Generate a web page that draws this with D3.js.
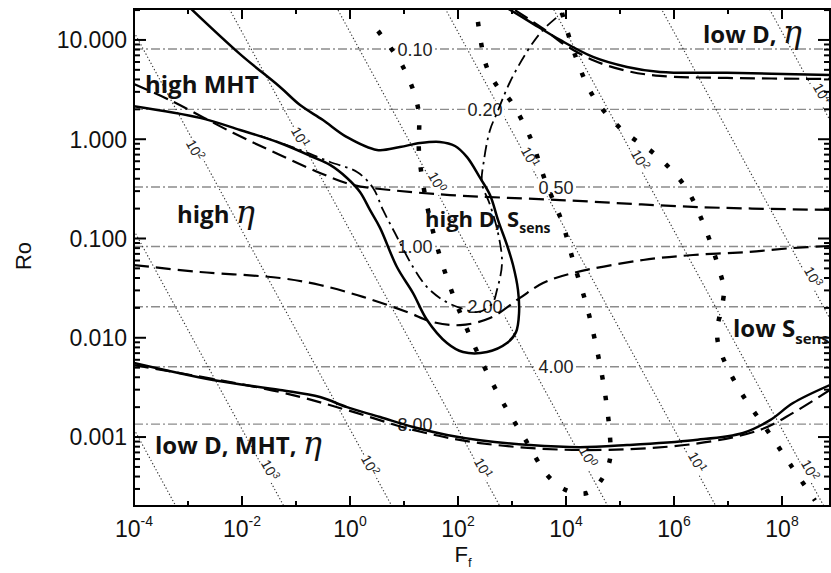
<!DOCTYPE html>
<meta charset="utf-8">
<style>
    body { margin: 0; background: #fff; }
    .tick-label { font: 23px "Liberation Sans", Arial, sans-serif; fill: #111; }
    .axis-title { font: 22px "Liberation Sans", Arial, sans-serif; fill: #111; }
    .level-label { font: 18px "Liberation Sans", Arial, sans-serif; fill: #222; }
    .diag-label { font: 14px "Liberation Sans", Arial, sans-serif; fill: #222; }
    .region { font-family: "Open Sans", sans-serif; font-weight: 700; fill: #111; }
    .eta { font-family: "DejaVu Serif", serif; font-style: italic; font-weight: 400; }
</style>
<body>
<script src="https://d3js.org/d3.v7.min.js"></script>
<script>

// axes
const xTickExps = [-4, -3, -2, -1, 0, 1, 2, 3, 4, 5, 6, 7, 8];
const xLabelExps = [-4, -2, 0, 2, 4, 6, 8];
const yTicks = [10, 1, 0.1, 0.01, 0.001];
const yTickLabels = ["10.000", "1.000", "0.100", "0.010", "0.001"];

// horizontal dash-dot levels (Ro) and their labels
const levelRo = [8.1, 2.0, 0.33, 0.083, 0.0205, 0.0051, 0.00135];
const levelText = ["0.10", "0.20", "0.50", "1.00", "2.00", "4.00", "8.00"];
const levelLabelF = [16, 316, 6500, 16, 316, 6500, 16];

// thin dotted diagonals, Ro*Ff = const
const diagProducts = [1.2e-7, 1.2e-5, 1.2e-3, 0.12, 12, 1.2e3, 1.2e5, 1.2e7, 1.2e9];
const diagLabels = [
    ["2", 1.35e-3, 0.78], ["1", 0.119, 1.05], ["0", 40.8, 0.37], ["1", 2150, 0.66],
    ["2", 2.35e5, 0.62], ["4", 5.5e8, 2.9], ["3", 3.75e8, 0.041],
    ["3", 0.033, 4.66e-4], ["2", 2.34, 5.2e-4], ["1", 290, 4.87e-4],
    ["0", 2.55e4, 6.3e-4], ["1", 2.67e6, 5.6e-4], ["2", 3.3e8, 4.66e-4]
];

// solid curve with the loop (Ff, Ro)
const solidLoop = [
    [1e-3, 22], [9.2e-3, 7.2], [0.0506, 3.36], [0.119, 2.21], [0.316, 1.56], [0.88, 1.05],
    [3.16, 0.78], [8.4, 0.835], [19.8, 0.916], [46, 0.94], [88, 0.855], [147, 0.66],
    [255, 0.41], [392, 0.274], [551, 0.153], [807, 0.086], [1045, 0.054], [1290, 0.0303],
    [1350, 0.0177], [1185, 0.0114], [807, 0.00885], [344, 0.00718], [124, 0.00718],
    [62.5, 0.00885], [26.7, 0.0151], [14.7, 0.0282], [7.4, 0.0516], [3.6, 0.128],
    [2.34, 0.194], [1.53, 0.294], [0.88, 0.407], [0.427, 0.551], [0.206, 0.662],
    [0.0506, 0.916], [9.2e-3, 1.24], [1.67e-3, 1.64], [1e-4, 2.15]
];

// dashed line through the middle
const dashedMid = [
    [1e-4, 3.6], [4.6e-4, 2.48], [6.8e-3, 1.16], [0.0506, 0.694], [0.278, 0.457],
    [1.14, 0.346], [5.5, 0.308], [71, 0.274], [7.7e3, 0.244], [3.0e6, 0.207], [7.7e8, 0.194]
];

// lower dashed line
const dashedLow = [
    [1e-4, 0.054], [1.67e-3, 0.046], [0.0506, 0.04], [0.278, 0.034], [1.74, 0.0258],
    [11.4, 0.0182], [34.4, 0.0144], [109, 0.0134], [392, 0.0158], [1406, 0.0252],
    [3750, 0.0356], [1.35e4, 0.0449], [2.67e5, 0.0607], [2.25e6, 0.0682],
    [2.25e7, 0.0731], [1.6e8, 0.0802], [7.7e8, 0.084]
];

// black dash-dot curve
const dashDot = [
    [0.0216, 1.08], [0.119, 0.78], [0.427, 0.59], [1.35, 0.468], [2.67, 0.323],
    [4.08, 0.194], [6.8, 0.1135], [14.7, 0.0516], [26.7, 0.0324], [52.7, 0.024],
    [109, 0.02], [234, 0.0182], [426, 0.0219], [527, 0.0303], [653, 0.0566],
    [551, 0.1135], [392, 0.218], [278, 0.362], [303, 0.618], [392, 1.24], [527, 1.84],
    [918, 3.77], [1980, 7.92], [3750, 12.6], [8800, 19.1], [1.29e4, 23]
];

// upper right pair
const solidTop = [
    [807, 21], [2150, 15.2], [7740, 10], [3.16e4, 6.75], [1.35e5, 5.35],
    [5.5e5, 4.76], [9.6e6, 4.66], [7.7e8, 4.44]
];
const dashedTop = [
    [1137, 20], [4080, 12.6], [9570, 8.9], [3.44e4, 6.14], [1.35e5, 4.87],
    [5.5e5, 4.34], [9.6e6, 4.14], [7.7e8, 4.05]
];

// lower pair
const solidBottom = [
    [1e-4, 5.57e-3], [2.9e-3, 3.75e-3], [0.0506, 2.98e-3], [0.278, 2.53e-3], [0.88, 2.0e-3],
    [3.6, 1.59e-3], [14.7, 1.26e-3], [62.5, 1.05e-3], [255, 9.3e-4], [2150, 8.3e-4],
    [1.8e4, 7.9e-4], [1.35e5, 8.3e-4], [2.25e6, 9.3e-4], [1.9e7, 1.1e-3],
    [6.0e7, 1.48e-3], [1.6e8, 2.2e-3], [7.7e8, 3.34e-3]
];
const dashedBottom = [
    [1e-4, 5.3e-3], [0.0506, 2.84e-3], [0.88, 1.87e-3], [14.7, 1.18e-3], [255, 8.7e-4],
    [1.8e4, 7.4e-4], [2.25e6, 8.5e-4], [3.9e7, 1.18e-3], [1.6e8, 1.75e-3], [7.7e8, 2.98e-3]
];

// heavy dotted curves
const dotsU = [
    [3.3, 12.3], [9.6, 5.35], [18.2, 2.07], [19, 0.726], [24.5, 0.274], [37.5, 0.0988],
    [65.3, 0.0373], [129, 0.0144], [278, 5.7e-3], [653, 2.31e-3], [1740, 9.55e-4],
    [4640, 4.05e-4], [1.0e4, 2.92e-4], [2.45e4, 2.73e-4], [4.64e4, 3.78e-4],
    [6.53e4, 6.0e-4], [6.53e4, 1.0e-3], [5.27e4, 2.77e-3], [3.75e4, 7.53e-3],
    [2.45e4, 0.0204], [1.41e4, 0.0553], [8430, 0.1466], [4080, 0.388], [2250, 1.0],
    [918, 2.48], [527, 3.44], [330, 5.6], [234, 15.2]
];
const dotsRight = [
    [8430, 18.7], [1.47e4, 7.06], [3.16e4, 2.73], [1.04e5, 1.27], [4.84e5, 0.678],
    [1.67e6, 0.323], [3.75e6, 0.128], [6.8e6, 0.0493], [8.4e6, 0.0296], [6.25e6, 0.0109],
    [7.7e6, 6.7e-3], [1.82e7, 2.71e-3], [5.27e7, 1.18e-3], [1.53e8, 5.0e-4], [4.08e8, 2.3e-4]
];

const width = 831, height = 573;
const plotL = 134, plotR = 830, plotT = 9, plotB = 506;

const svg = d3.select("body").append("svg")
    .attr("width", width)
    .attr("height", height);

const x = d3.scaleLog().domain([1e-4, 7.74e8]).range([plotL, plotR]);
const y = d3.scaleLog().domain([2.02e-4, 20.5]).range([plotB, plotT]);

svg.append("clipPath").attr("id", "plot")
    .append("rect")
    .attr("x", plotL).attr("y", plotT)
    .attr("width", plotR - plotL).attr("height", plotB - plotT);

const plot = svg.append("g").attr("clip-path", "url(#plot)");

// horizontal gray dash-dot lines
plot.selectAll(".level")
    .data(levelRo)
    .enter().append("line")
    .attr("x1", plotL).attr("x2", plotR)
    .attr("y1", d => y(d)).attr("y2", d => y(d))
    .attr("stroke", "#8c8c8c")
    .attr("stroke-width", 1.4)
    .attr("stroke-dasharray", "9,3,2,3");

// dotted diagonals
const [fMin, fMax] = x.domain();
plot.selectAll(".diag")
    .data(diagProducts)
    .enter().append("line")
    .attr("x1", x(fMin)).attr("y1", d => y(d / fMin))
    .attr("x2", x(fMax)).attr("y2", d => y(d / fMax))
    .attr("stroke", "#333")
    .attr("stroke-width", 1.1)
    .attr("stroke-dasharray", "1.3,2.2");

// labels on levels, with white backing
levelText.forEach((t, i) => {
    const g = plot.append("g")
        .attr("transform", `translate(${x(levelLabelF[i])},${y(levelRo[i])})`);
    const txt = g.append("text")
        .attr("class", "level-label")
        .attr("text-anchor", "middle")
        .attr("dy", "0.36em")
        .text(t);
    const b = txt.node().getBBox();
    g.insert("rect", "text")
        .attr("x", b.x - 2).attr("y", b.y + 1)
        .attr("width", b.width + 4).attr("height", b.height - 2)
        .attr("fill", "#fff");
});

// labels on diagonals
const angle = Math.atan2(y(1e-3) - y(1e-2), x(1e2) - x(1e1)) * 180 / Math.PI;
diagLabels.forEach(([e, f, ro]) => {
    const g = plot.append("g")
        .attr("transform", `translate(${x(f)},${y(ro)}) rotate(${angle})`);
    const txt = g.append("text")
        .attr("class", "diag-label")
        .attr("text-anchor", "middle")
        .attr("dy", "0.36em");
    txt.append("tspan").text("10");
    txt.append("tspan").attr("dy", -5).attr("font-size", 10).text(e);
    const b = txt.node().getBBox();
    g.insert("rect", "text")
        .attr("x", b.x - 1).attr("y", b.y)
        .attr("width", b.width + 2).attr("height", b.height)
        .attr("fill", "#fff");
});

const line = d3.line()
    .x(d => x(d[0]))
    .y(d => y(d[1]))
    .curve(d3.curveCatmullRom.alpha(0.5));

const curves = svg.append("g").attr("clip-path", "url(#plot)");

function drawCurve(data, w, dash) {
    curves.append("path")
        .datum(data)
        .attr("d", line)
        .attr("fill", "none")
        .attr("stroke", "#000")
        .attr("stroke-width", w)
        .attr("stroke-dasharray", dash);
}

drawCurve(dashedMid, 2.2, "15,7");
drawCurve(dashedLow, 2.2, "15,7");
drawCurve(dashedTop, 2.2, "15,7");
drawCurve(dashedBottom, 2.2, "15,7");
drawCurve(dashDot, 1.8, "12,5,2.5,5");
drawCurve(solidLoop, 2.5, null);
drawCurve(solidTop, 2.5, null);
drawCurve(solidBottom, 2.5, null);

// heavy square dots
[dotsU, dotsRight].forEach(d => {
    curves.append("path")
        .datum(d)
        .attr("d", line)
        .attr("fill", "none")
        .attr("stroke", "#000")
        .attr("stroke-width", 4.5)
        .attr("stroke-dasharray", "4.5,16.5");
});

// frame and ticks
const axes = svg.append("g");
const yMinor = [];
for (let e = -4; e <= 1; e++) {
    for (let m = 2; m <= 9; m++) {
        const v = m * Math.pow(10, e);
        if (v > y.domain()[0] && v < y.domain()[1]) yMinor.push(v);
    }
}

function tickLines(vals, horizontal, pos, len) {
    axes.selectAll(null)
        .data(vals)
        .enter().append("line")
        .attr("x1", d => horizontal ? x(d) : pos)
        .attr("x2", d => horizontal ? x(d) : pos + len)
        .attr("y1", d => horizontal ? pos : y(d))
        .attr("y2", d => horizontal ? pos + len : y(d))
        .attr("stroke", "#000")
        .attr("stroke-width", 2);
}

const xMajor = xTickExps.filter(e => e % 2 === 0).map(e => Math.pow(10, e));
const xMinorTicks = xTickExps.filter(e => e % 2 !== 0).map(e => Math.pow(10, e));
tickLines(xMajor, true, plotB, -10);
tickLines(xMinorTicks, true, plotB, -5);
tickLines(xMajor, true, plotT, 10);
tickLines(xMinorTicks, true, plotT, 5);
tickLines(yTicks, false, plotL, 12);
tickLines(yMinor, false, plotL, 6);
tickLines(yTicks, false, plotR, -12);
tickLines(yMinor, false, plotR, -6);

axes.append("rect")
    .attr("x", plotL).attr("y", plotT)
    .attr("width", plotR - plotL).attr("height", plotB - plotT)
    .attr("fill", "none")
    .attr("stroke", "#000")
    .attr("stroke-width", 2);

// tick labels
axes.selectAll(".ylab")
    .data(yTicks)
    .enter().append("text")
    .attr("class", "tick-label")
    .attr("x", 127)
    .attr("y", d => y(d))
    .attr("dy", "0.36em")
    .attr("text-anchor", "end")
    .text((d, i) => yTickLabels[i]);

xLabelExps.forEach(e => {
    const t = axes.append("text")
        .attr("class", "tick-label")
        .attr("x", x(Math.pow(10, e)))
        .attr("y", 537)
        .attr("text-anchor", "middle");
    t.append("tspan").text("10");
    t.append("tspan").attr("dy", -11).attr("font-size", 14).text(e < 0 ? "-" + (-e) : e);
});

svg.append("text")
    .attr("class", "axis-title")
    .attr("transform", "translate(31,256) rotate(-90)")
    .attr("text-anchor", "middle")
    .attr("font-size", 23)
    .text("Ro");

const ft = svg.append("text")
    .attr("class", "axis-title")
    .attr("x", 463).attr("y", 562)
    .attr("text-anchor", "middle");
ft.append("tspan").text("F");
ft.append("tspan").attr("dy", 5).attr("font-size", 13).text("f");

// region annotations
function region(px, py, size, parts) {
    const t = svg.append("text")
        .attr("class", "region")
        .attr("x", px).attr("y", py)
        .attr("font-size", size);
    parts.forEach(p => {
        const s = t.append("tspan").text(p.t);
        if (p.eta) s.attr("class", "eta").attr("font-size", p.eta);
        if (p.sub) s.attr("font-size", p.sub).attr("dy", p.dy);
    });
}

region(145, 93, 24, [{t: "high MHT"}]);
region(177, 223, 24, [{t: "high "}, {t: "\u03B7", eta: 32}]);
region(425, 227, 22, [{t: "high D, S"}, {t: "sens", sub: 14, dy: 6}]);
region(703, 43, 24, [{t: "low D, "}, {t: "\u03B7", eta: 32}]);
region(733, 337, 24, [{t: "low S"}, {t: "sens", sub: 15, dy: 7}]);
region(155, 454, 24, [{t: "low D, MHT, "}, {t: "\u03B7", eta: 32}]);

</script>
</body>
</html>
